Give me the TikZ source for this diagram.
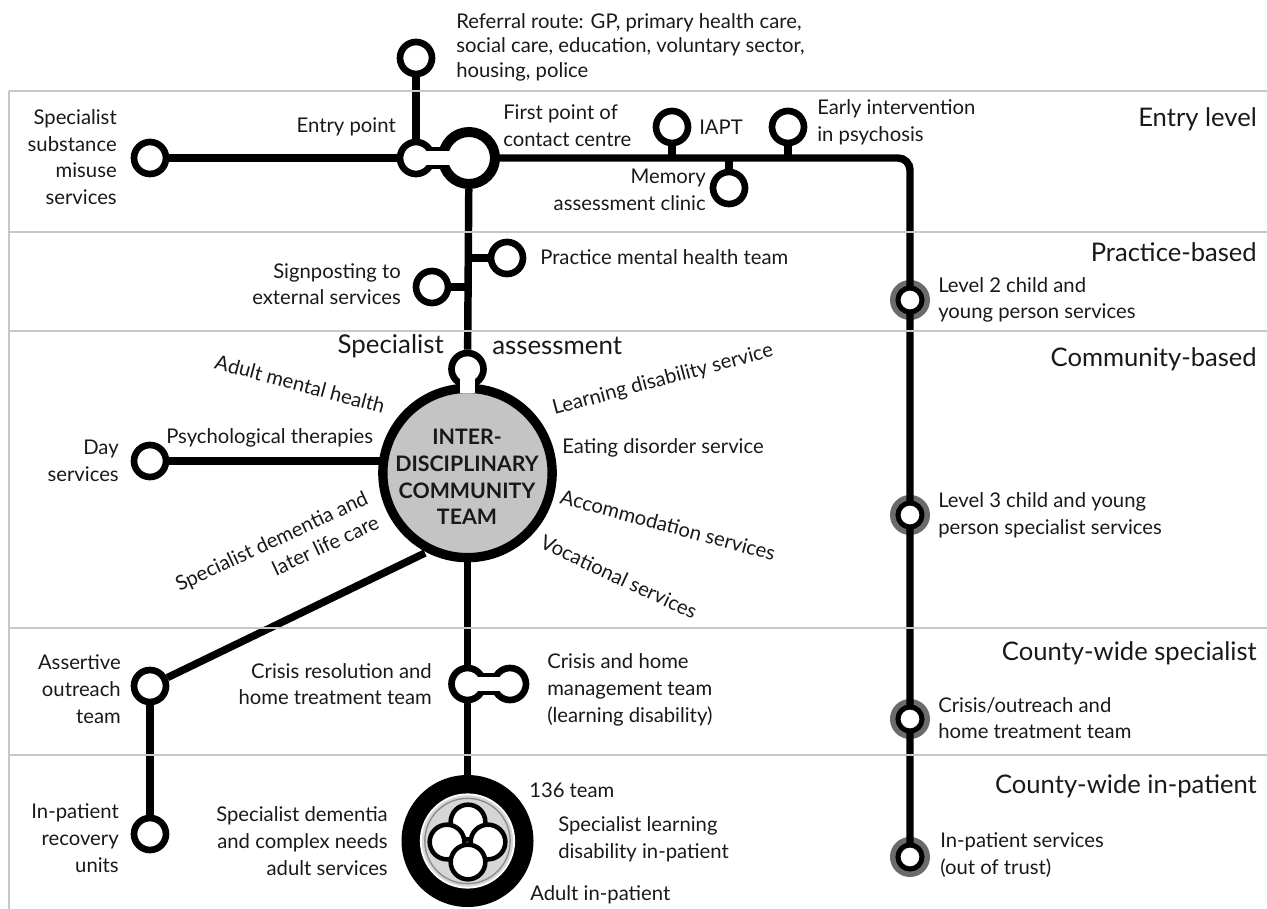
\documentclass[tikz,border=0pt]{standalone}
\usepackage{fontspec}
\setmainfont{Lato}
\usetikzlibrary{backgrounds}
\definecolor{rulegrey}{gray}{0.78}
\definecolor{halogrey}{gray}{0.42}
\definecolor{hubgrey}{gray}{0.77}
\tikzset{
  station/.style={circle,draw=black,fill=white,line width=5pt,inner sep=0pt,minimum size=24pt},
  halted/.style={station,line width=3.8pt,minimum size=18pt},
  ringlet/.style={station,line width=3.4pt,minimum size=26pt},
  hub/.style={circle,draw=black,fill=white,line width=7.5pt,inner sep=0pt,minimum size=39pt},
  trunk/.style={line width=5.6pt,line cap=butt},
  neck/.style={line width=16pt,draw=black},
  neckwhite/.style={line width=10pt,draw=white},
  band/.style={draw=rulegrey,line width=1pt},
  lab/.style={font=\fontsize{15.2}{20}\selectfont,inner sep=0pt,text=black!90},
  labl/.style={lab,anchor=west,align=left},
  labr/.style={lab,anchor=east,align=right},
  labc/.style={lab,align=center},
  level/.style={font=\fontsize{19.2}{20}\selectfont,inner sep=0pt,anchor=east,text=black!90},
  head/.style={font=\fontsize{19.4}{20}\selectfont,inner sep=0pt,text=black!90},
}
\begin{document}
\begin{tikzpicture}[x=0.75pt,y=-0.75pt]
  \useasboundingbox (0,0) rectangle (1267,909);
  \draw[band] (9,91) -- (9,909);
  \foreach \ypos in {91,232,331,628,755}
    \draw[band] (9,\ypos) -- (1267,\ypos);

  \node[station] (referral) at (416,58) {};
  \node[station] (substance) at (150,158) {};
  \node[station] (entry) at (416,158) {};
  \node[hub] (contact) at (469,158) {};
  \node[station] (iapt) at (672,127) {};
  \node[station] (memory) at (729,188) {};
  \node[station] (early) at (788,127) {};
  \node[station] (practice) at (507,258) {};
  \node[station] (signpost) at (432,287) {};
  \node[halted] (levelb) at (910,300) {};
  \node[halted] (levelc) at (910,515) {};
  \node[halted] (outreach) at (910,719) {};
  \node[halted] (outtrust) at (910,857) {};
  \node[station] (day) at (150,461) {};
  \node[station] (assertive) at (150,686) {};
  \node[station] (recovery) at (150,834) {};
  \node[station] (resolution) at (467.5,684) {};
  \node[station] (homeld) at (510,684) {};
  \node[station] (assess) at (467.5,369) {};
  \node[circle,draw=black,fill=hubgrey,line width=7pt,inner sep=0pt,minimum size=127pt] (team) at (467.5,473) {};
  \node[circle,fill=black,inner sep=0pt,minimum size=99pt] (inpatient) at (467.5,841) {};
  \node[circle,draw=white,fill=hubgrey!70,line width=1.4pt,inner sep=0pt,minimum size=70pt] (inpatientdisc) at (467.5,841) {};
  \draw[rulegrey!70!black,line width=1pt] (inpatientdisc) circle (32pt);
  \node[ringlet] (ringtop) at (468,822) {};
  \node[ringlet] (ringleft) at (447,842) {};
  \node[ringlet] (ringright) at (488,842) {};
  \node[ringlet] (ringbottom) at (468,862) {};

  \coordinate (corner) at (910,158);
  \coordinate (iaptjoin) at (672,158);
  \coordinate (memoryjoin) at (729,158);
  \coordinate (earlyjoin) at (788,158);
  \coordinate (practicejoin) at (467.5,258);
  \coordinate (signpostjoin) at (467.5,287);
  \coordinate (dayjoin) at (400,461);
  \coordinate (teamjoin) at (425,553);
  \coordinate (assessfoot) at (467.5,393);

  \begin{scope}[on background layer]
    \foreach \halt in {levelb,levelc,outreach,outtrust}
      \fill[halogrey] (\halt) circle (15pt);
    \draw[trunk,rounded corners=9pt] (contact.center) -- (corner) -- (outtrust.center);
    \draw[trunk] (substance) -- (entry);
    \draw[trunk] (referral) -- (entry);
    \draw[trunk] (contact) -- (assess);
    \draw[trunk] (iapt) -- (iaptjoin);
    \draw[trunk] (memory) -- (memoryjoin);
    \draw[trunk] (early) -- (earlyjoin);
    \draw[trunk] (practice) -- (practicejoin);
    \draw[trunk] (signpost) -- (signpostjoin);
    \draw[trunk] (day) -- (dayjoin);
    \draw[trunk] (assertive) -- (teamjoin);
    \draw[trunk] (assertive) -- (recovery);
    \draw[trunk] (team) -- (inpatient);
    \draw[neck] (entry.center) -- (contact.center);
    \draw[neck] (resolution.center) -- (homeld.center);
    \draw[neck,line width=15pt] (assess.center) -- (team.center);
  \end{scope}
  \draw[neckwhite] (entry.center) -- (contact.center);
  \draw[neckwhite] (resolution.center) -- (homeld.center);
  \draw[neckwhite,line width=11pt] (assess.center) -- (assessfoot);

  \node[labl,font=\fontsize{15.2}{18.4}\selectfont] (referraltext) at (456,47) {Referral route: GP, primary health care,\\social care, education, voluntary sector,\\housing, police};
  \node[labr] (substancetext) at (117,157) {Specialist\\substance\\misuse\\services};
  \node[labr] (entrytext) at (396,127) {Entry point};
  \node[labl] (contacttext) at (503,126) {First point of\\contact centre};
  \node[labl] (iapttext) at (699,127) {IAPT};
  \node[labl] (earlytext) at (817,122) {Early intervention\\in psychosis};
  \node[labr] (memorytext) at (706,190) {Memory\\assessment clinic};
  \node[labl] (practicetext) at (540,257) {Practice mental health team};
  \node[labr] (signposttext) at (401,284) {Signposting to\\external services};
  \node[labl] (levelbtext) at (938,300) {Level 2 child and\\young person services};
  \node[labl] (levelctext) at (938,515) {Level 3 child and young\\person specialist services};
  \node[labl] (outreachtext) at (938,718) {Crisis/outreach and\\home treatment team};
  \node[labl] (outtrusttext) at (940,855) {In-patient services\\(out of trust)};
  \node[labl] (therapiestext) at (166,438) {Psychological therapies};
  \node[labr] (daytext) at (119,461) {Day\\services};
  \node[labl] (eatingtext) at (562,448) {Eating disorder service};
  \node[labr] (assertivetext) at (121,689) {Assertive\\outreach\\team};
  \node[labr] (resolutiontext) at (432,684) {Crisis resolution and\\home treatment team};
  \node[labl] (homeldtext) at (547,690) {Crisis and home\\management team\\(learning disability)};
  \node[labr] (recoverytext) at (119,838) {In-patient\\recovery\\units};
  \node[labr] (dementiatext) at (388,841) {Specialist dementia\\and complex needs\\adult services};
  \node[labl] (s136text) at (529,790) {136 team};
  \node[labl] (ldtext) at (558,839) {Specialist learning\\disability in-patient};
  \node[labl] (adulttext) at (530,895) {Adult in-patient};
  \node[head,anchor=east] (specialisttext) at (444,346) {Specialist};
  \node[head,anchor=west] (assesstext) at (492,346) {assessment};
  \node[lab,rotate=-15] (adulttextb) at (300,384) {Adult mental health};
  \node[lab,rotate=15] (learningtext) at (663,380) {Learning disability service};
  \node[lab,rotate=-15] (accomtext) at (668,525) {Accommodation services};
  \node[lab,rotate=-25] (vocationaltext) at (619,577) {Vocational services};
  \node[labc,align=right,rotate=25] (latertext) at (277,553) {Specialist dementia and\\later life care};
  \node[labc,font=\fontsize{16}{20}\selectfont\bfseries] (teamtext) at (467,477) {INTER-\\DISCIPLINARY\\COMMUNITY\\TEAM};
  \node[level] (levela) at (1257,119) {Entry level};
  \node[level] (levelpb) at (1257,252) {Practice-based};
  \node[level] (levelcb) at (1257,359) {Community-based};
  \node[level] (levelcs) at (1257,653) {County-wide specialist};
  \node[level] (levelci) at (1257,786) {County-wide in-patient};
\end{tikzpicture}
\end{document}
